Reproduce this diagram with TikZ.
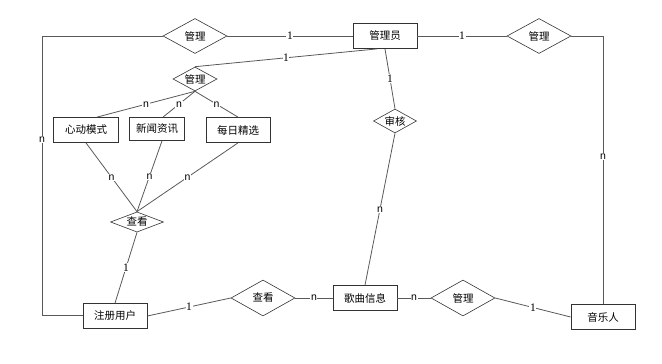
\documentclass[tikz,border=0pt]{standalone}
\usepackage{fontspec}
\newfontfamily\cjk{Noto Sans CJK SC}
\newfontfamily\lblsans{Liberation Sans}
\newfontfamily\lblserif{Liberation Serif}
\usetikzlibrary{shapes.geometric,calc}
\tikzset{
  ent/.style={draw=black!80, line width=0.8pt, rectangle, minimum width=64pt, minimum height=25pt, inner sep=1pt, font=\cjk\fontsize{10.5}{12}\selectfont, fill=white},
  rel/.style={draw=black!80, line width=0.6pt, diamond, aspect=2, inner sep=0pt, font=\cjk\fontsize{10.5}{12}\selectfont},
  conn/.style={draw=black!65, line width=0.8pt},
  one/.style={fill=white, inner sep=0.6pt, font=\lblserif\fontsize{11.5}{11}\selectfont},
  many/.style={fill=white, inner sep=0.6pt, font=\lblsans\fontsize{10.5}{11}\selectfont},
}
\begin{document}
\begin{tikzpicture}[x=1pt,y=-1pt]
\useasboundingbox (0,0) rectangle (662,364);
% entities
\node[ent] (adm) at (385,36) {管理员};
\node[ent] (mus) at (603,317) {音乐人};
\node[ent] (user) at (115,316) {注册用户};
\node[ent] (song) at (365,298) {歌曲信息};
\node[ent, minimum width=65pt] (xd) at (86,130) {心动模式};
\node[ent, minimum width=55pt, minimum height=23pt] (xw) at (157,129) {新闻资讯};
\node[ent] (mr) at (238,130) {每日精选};
% relationships
\node[rel, minimum width=64pt, minimum height=35pt] (m1) at (195,36) {管理};
\node[rel, minimum width=64pt, minimum height=35pt] (m2) at (539,36) {管理};
\node[rel, minimum width=44pt, minimum height=24pt] (m3) at (195,79) {管理};
\node[rel, minimum width=43pt, minimum height=24pt] (sh) at (395,121) {审核};
\node[rel, minimum width=53pt, minimum height=20pt] (cs) at (137,222) {查看};
\node[rel, minimum width=64pt, minimum height=36pt] (ca) at (263,298) {查看};
\node[rel, minimum width=64pt, minimum height=36pt] (m4) at (463,298) {管理};
% corner points
\coordinate (lc1) at (42,36);
\coordinate (lc2) at (42,315);
\coordinate (rc) at (603,36);
% connectors
\draw[conn] (m1.west) -- (lc1) -- node[many, pos=0.37]{n} (lc2) -- (user.west |- lc2);
\draw[conn] (m1.east) -- node[one]{1} (adm.west);
\draw[conn] (adm.east) -- node[one]{1} (m2.west);
\draw[conn] (m2.east) -- (rc) -- node[many, pos=0.45]{n} (mus.north);
\draw[conn] (m3.north) -- node[one]{1} ([xshift=-8pt]adm.south);
\draw[conn] (adm.south) -- node[one]{1} (sh.north);
\draw[conn] (sh.south) -- node[many]{n} (song.north);
\draw[conn] (song.east) -- node[many]{n} (m4.west);
\draw[conn] (m4.east) -- node[one]{1} (mus.west);
\draw[conn] (user.east) -- node[one]{1} (ca.west);
\draw[conn] (ca.east) -- node[many]{n} (song.west);
\draw[conn] (cs.south) -- node[one]{1} (user.north);
\draw[conn] (m3.south) -- node[many]{n} ([xshift=11pt]xd.north);
\draw[conn] (m3.south) -- node[many]{n} ([xshift=6pt]xw.north);
\draw[conn] (m3.south) -- node[many]{n} (mr.north);
\draw[conn] (xd.south) -- node[many]{n} (cs.north);
\draw[conn] ([xshift=5pt]xw.south) -- node[many]{n} (cs.north);
\draw[conn] (mr.south) -- node[many]{n} (cs.north);
\end{tikzpicture}
\end{document}
